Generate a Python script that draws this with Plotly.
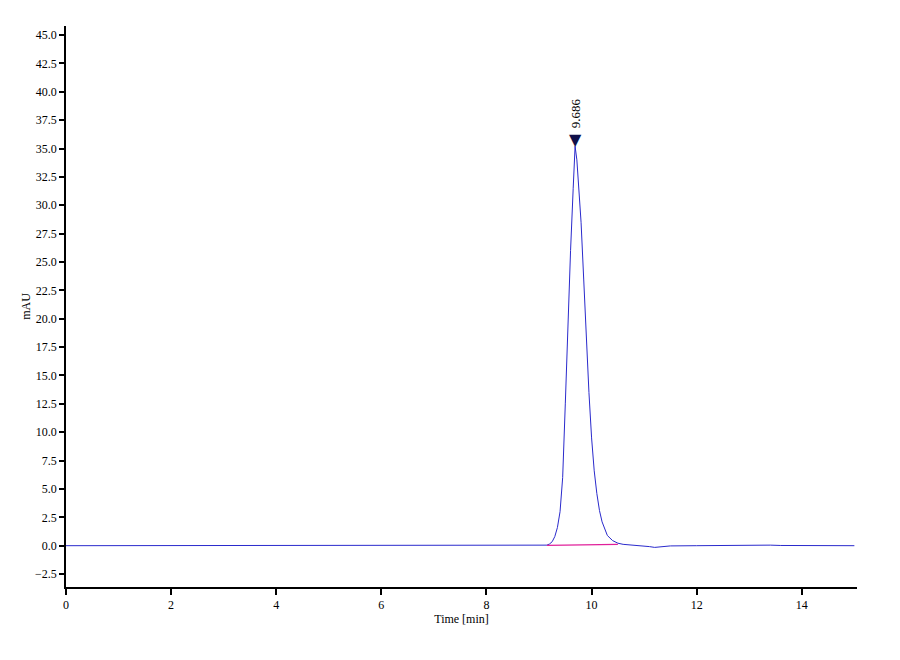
import plotly.graph_objects as go

# chromatogram (time in min, signal in mAU)
time = [0, 1, 2, 3, 4, 5, 6, 7, 8, 9.0, 9.1, 9.15, 9.2, 9.25, 9.3, 9.35, 9.4,
        9.45, 9.5, 9.55, 9.6, 9.65, 9.686, 9.72, 9.75, 9.8, 9.85, 9.9, 9.95,
        10.0, 10.05, 10.1, 10.15, 10.2, 10.25, 10.3, 10.4, 10.5, 10.6, 10.8,
        11.0, 11.1, 11.2, 11.3, 11.5, 12.0, 12.4, 12.5, 13.0, 13.4, 13.6,
        14.0, 15.0]
signal = [0, 0, 0, 0, 0, 0, 0, 0, 0, 0, 0.02, 0.05, 0.15, 0.35, 0.8, 1.6, 3.0,
          6.0, 12.5, 19.5, 26.0, 31.5, 35.2, 34.0, 32.0, 28.5, 23.5, 18.0, 13.5,
          9.5, 6.6, 4.6, 3.1, 2.1, 1.4, 0.9, 0.45, 0.22, 0.12, 0.05,
          0.0, -0.08, -0.15, -0.1, -0.02, 0.0, 0.02, 0.06, 0.06, 0.05, 0.02,
          0.0, 0.0]

base_time = [9.15, 10.5]
base_signal = [0.02, 0.12]

peak_time = [9.686]
peak_height = [35.2]
peak_label = ["9.686"]

x_ticks = [0, 2, 4, 6, 8, 10, 12, 14]
y_ticks = [-2.5, 0, 2.5, 5, 7.5, 10, 12.5, 15, 17.5, 20, 22.5, 25, 27.5, 30,
           32.5, 35, 37.5, 40, 42.5, 45]

font = "Liberation Serif"

fig = go.Figure()

fig.add_trace(go.Scatter(
    x=time, y=signal, mode="lines",
    line=dict(color="#2a2acc", width=1),
    showlegend=False
))

fig.add_trace(go.Scatter(
    x=base_time, y=base_signal, mode="lines",
    line=dict(color="#e0209a", width=1.2),
    showlegend=False
))

# peak marker: downward triangle sitting on the apex, label above it
fig.add_annotation(
    x=peak_time[0], y=peak_height[0], text="▼",
    showarrow=False, yanchor="bottom", yshift=-5,
    font=dict(family="DejaVu Sans", size=16, color="#10104a")
)
fig.add_annotation(
    x=peak_time[0], y=peak_height[0], text=peak_label[0],
    textangle=-90, showarrow=False, yanchor="bottom", yshift=16,
    font=dict(family=font, size=13, color="#000000")
)

fig.update_xaxes(
    range=[0, 15.05], tickvals=x_ticks,
    showline=True, linecolor="black", linewidth=1.5,
    ticks="outside", ticklen=6, tickwidth=1.5, tickcolor="black",
    showgrid=False, zeroline=False,
    title=dict(text="Time [min]", font=dict(family=font, size=12), standoff=0),
    tickfont=dict(family=font, size=12, color="black")
)

fig.update_yaxes(
    range=[-3.64, 45.8], tickvals=y_ticks, tickformat=".1f",
    showline=True, linecolor="black", linewidth=1.5,
    ticks="outside", ticklen=5, tickwidth=1.5, tickcolor="black",
    showgrid=False, zeroline=False,
    title=dict(text="mAU", font=dict(family=font, size=12), standoff=2),
    tickfont=dict(family=font, size=12, color="black")
)

fig.update_layout(
    width=900, height=660,
    plot_bgcolor="white", paper_bgcolor="white",
    margin=dict(l=58, r=51, t=18, b=81),
    font=dict(family=font, color="black")
)

fig.write_html("out.html")
